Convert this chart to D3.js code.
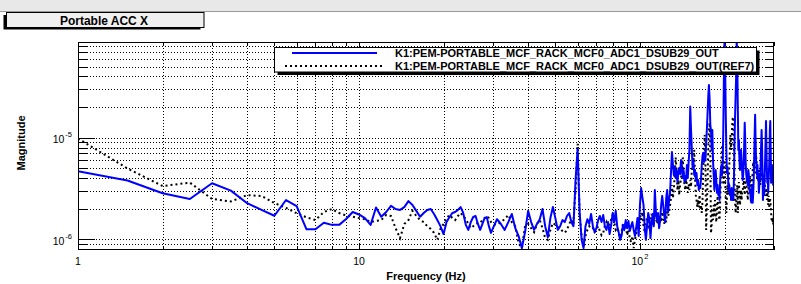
<!DOCTYPE html>
<html>
<head>
<meta charset="utf-8">
<script src="https://cdn.jsdelivr.net/npm/d3@7"></script>
<style>
  body { margin: 0; background: #fff; }
  svg { display: block; font-family: "Liberation Sans", Arial, Helvetica, sans-serif; }
</style>
</head>
<body>
<div id="chart"></div>
<script>
// Título e nomes das séries
const titulo = "Portable ACC X";
const nomesSeries = [
  "K1:PEM-PORTABLE_MCF_RACK_MCF0_ADC1_DSUB29_OUT",
  "K1:PEM-PORTABLE_MCF_RACK_MCF0_ADC1_DSUB29_OUT(REF7)"
];
const tituloX = "Frequency (Hz)";
const tituloY = "Magnitude";

// Frequências (Hz): 0.5 Hz até 29.5, depois 1 Hz até 300
const freqBaixa = d3.range(1, 30, 0.5);
const freqAlta = d3.range(30, 301, 1);
const frequencias = [...freqBaixa, ...freqAlta];

// Magnitudes em unidades de 1e-6
const unidade = 1e-6;

const valoresAtual = [
  // 1 .. 29.5 Hz (passo 0.5)
  4.69, 3.80, 2.84, 2.50, 3.57, 3.02, 2.27, 1.95, 1.71, 2.44,
  2.13, 1.26, 1.26, 1.46, 1.39, 1.39, 1.59, 1.86, 1.76, 1.62,
  1.39, 2.06, 1.67, 1.86, 2.14, 1.99, 1.95, 2.08, 2.38, 2.18,
  1.91, 1.67, 1.82, 1.95, 1.99, 1.78, 1.55, 1.35, 1.13, 1.48,
  1.66, 1.82, 1.86, 1.95, 2.08, 1.82, 1.39, 1.24, 1.48, 1.66,
  1.70, 1.42, 1.24, 1.42, 1.62, 1.66, 1.35, 1.16,
  // 30 .. 300 Hz (passo 1)
  1.29, 1.58, 1.42, 1.24, 1.48, 1.78, 1.29, 1.08, 0.82, 1.18,
  1.91, 1.48, 1.24, 1.42, 1.58, 1.99, 1.35, 1.05, 1.62, 2.08,
  1.62, 1.24, 1.35, 1.55, 1.48, 1.70, 1.82, 1.48, 1.35, 3.84,
  7.74, 1.86, 0.99, 0.82, 1.35, 1.58, 1.42, 1.78, 1.35, 1.18,
  1.29, 1.55, 1.70, 1.48, 1.74, 1.35, 1.24, 1.48, 1.13, 1.39,
  1.82, 1.48, 1.91, 1.35, 1.18, 0.99, 1.08, 1.39, 1.24, 1.55,
  1.29, 1.52, 1.21, 1.35, 1.48, 1.24, 1.08, 1.32, 1.62, 1.08,
  2.18, 3.20, 2.61, 2.18, 1.29, 0.99, 1.35, 1.82, 1.62, 1.03,
  1.48, 1.78, 1.35, 3.06, 1.86, 1.55, 1.82, 1.29, 1.55, 2.18,
  2.68, 2.18, 1.74, 1.48, 2.55, 3.06, 1.86, 2.44, 2.87, 4.60,
  7.24, 5.50, 4.30, 5.15, 4.02, 4.82, 3.67, 4.50, 5.04, 4.40,
  6.04, 5.27, 4.02, 4.82, 3.67, 4.20, 3.84, 5.40, 4.02, 5.65,
  7.59, 20.3, 12.0, 7.59, 5.04, 6.04, 4.30, 4.82, 3.84, 4.50,
  3.43, 3.84, 3.06, 3.35, 3.20, 4.02, 5.40, 6.60, 7.10, 5.78,
  7.10, 6.04, 8.49, 11.9, 17.0, 25.0, 33.0, 24.0, 13.4, 11.9,
  7.59, 11.9, 6.04, 4.30, 3.06, 3.84, 4.82, 3.84, 2.87, 3.43,
  2.74, 3.06, 2.44, 3.84, 4.82, 5.40, 4.30, 5.40, 12.0, 40.0,
  92.0, 50.0, 18.0, 7.59, 4.50, 5.15, 3.84, 3.06, 3.43, 2.74,
  3.06, 2.44, 3.20, 2.74, 2.44, 2.44, 3.84, 8.49, 16.0, 25.0,
  40.0, 92.0, 60.0, 20.0, 7.59, 9.50, 6.04, 4.82, 5.40, 7.59,
  6.04, 4.82, 3.84, 4.30, 5.40, 8.49, 14.0, 9.50, 5.40, 4.40,
  3.84, 4.40, 3.43, 4.82, 4.40, 3.43, 2.87, 3.06, 2.44, 2.30,
  2.74, 3.43, 2.30, 2.87, 3.84, 6.04, 10.7, 16.8, 9.50, 6.04,
  5.20, 4.30, 5.40, 3.84, 4.40, 2.87, 3.43, 4.30, 3.84, 6.04,
  8.49, 11.9, 8.49, 4.82, 2.44, 3.06, 3.84, 2.74, 4.30, 6.04,
  9.50, 14.6, 8.49, 4.82, 3.60, 4.30, 2.87, 3.84, 4.82, 6.60,
  11.9, 14.6, 7.59, 3.60, 4.82, 5.40, 3.84, 4.30, 3.43, 4.82,
  3.84
];

const valoresRef7 = [
  // 1 .. 29.5 Hz (passo 0.5)
  9.80, 4.99, 3.35, 3.62, 2.50, 2.36, 2.73, 2.67, 2.28, 2.04,
  1.81, 1.65, 1.55, 1.86, 1.99, 1.82, 1.72, 1.67, 1.62, 1.58,
  1.48, 1.52, 1.55, 1.74, 1.70, 1.29, 1.03, 1.42, 1.55, 1.91,
  1.70, 1.55, 1.48, 1.35, 1.27, 1.16, 0.99, 1.27, 1.42, 1.62,
  1.74, 1.62, 1.55, 1.70, 1.82, 1.70, 1.58, 1.42, 1.29, 1.35,
  1.42, 1.45, 1.45, 1.55, 1.62, 1.70, 1.62, 1.48,
  // 30 .. 300 Hz (passo 1)
  1.42, 1.39, 1.48, 1.58, 1.74, 1.48, 1.35, 0.92, 0.82, 1.35,
  1.42, 1.29, 1.18, 1.42, 1.55, 1.29, 1.03, 0.99, 1.24, 1.45,
  1.39, 1.32, 1.27, 1.21, 1.16, 1.24, 1.42, 1.55, 1.48, 3.06,
  8.70, 1.74, 1.08, 0.84, 1.08, 1.24, 1.35, 1.27, 1.29, 1.18,
  1.24, 1.35, 1.21, 1.10, 1.16, 1.35, 1.48, 1.29, 1.42, 1.58,
  1.74, 1.48, 1.24, 1.29, 1.16, 0.99, 1.18, 1.42, 1.29, 1.45,
  1.10, 1.24, 1.03, 0.94, 1.08, 0.82, 0.99, 1.13, 1.29, 1.42,
  1.74, 1.55, 1.86, 1.35, 1.18, 1.48, 1.62, 1.42, 1.24, 1.48,
  1.78, 1.55, 1.35, 1.86, 1.62, 1.42, 1.55, 1.32, 1.70, 1.48,
  1.86, 1.62, 1.42, 1.74, 1.48, 1.95, 1.70, 1.86, 2.18, 2.55,
  3.43, 2.55, 3.06, 4.30, 6.40, 4.82, 3.06, 3.84, 2.74, 3.43,
  4.02, 4.82, 6.40, 4.60, 3.50, 3.06, 3.84, 3.43, 2.87, 3.50,
  3.06, 3.84, 3.28, 4.82, 5.40, 6.04, 7.60, 4.30, 2.74, 2.44,
  2.08, 2.44, 2.08, 2.74, 1.95, 2.18, 1.82, 2.44, 4.82, 8.49,
  10.7, 6.04, 1.24, 1.95, 3.84, 7.59, 11.9, 14.0, 7.59, 1.15,
  1.39, 1.95, 1.55, 2.18, 1.66, 2.44, 1.78, 1.48, 2.03, 2.68,
  2.18, 1.70, 1.55, 2.44, 3.84, 6.04, 8.50, 5.40, 3.43, 4.30,
  6.04, 3.84, 2.44, 1.82, 2.55, 3.43, 2.74, 3.84, 5.40, 7.59,
  10.7, 7.59, 9.50, 13.4, 15.6, 16.0, 7.59, 3.84, 2.44, 1.82,
  2.18, 2.74, 3.43, 1.82, 3.06, 3.67, 2.80, 2.18, 2.55, 3.06,
  2.44, 2.87, 2.87, 3.43, 4.02, 3.28, 2.74, 3.35, 3.84, 3.84,
  3.20, 2.80, 2.44, 2.92, 3.35, 3.06, 3.50, 4.20, 3.06, 3.35,
  3.35, 3.84, 4.82, 5.78, 5.04, 6.20, 6.40, 5.40, 4.30, 5.04,
  6.40, 4.02, 4.82, 4.60, 3.84, 4.20, 4.82, 4.20, 3.43, 4.02,
  4.60, 3.84, 4.20, 4.50, 3.50, 3.06, 3.67, 4.30, 3.67, 3.06,
  2.68, 3.20, 2.74, 2.44, 2.92, 2.55, 2.18, 2.68, 2.38, 2.03,
  2.44, 2.44, 2.13, 1.86, 1.55, 1.62, 1.48, 1.55, 1.39, 1.74,
  1.62
];

// Marcas dos eixos
const xTicksMaiores = [1, 10, 100];
const xTicksMenores = [2, 3, 4, 5, 6, 7, 8, 9, 20, 30, 40, 50, 60, 70, 80, 90, 200, 300];
const yTicksMaiores = [1e-6, 1e-5];
const yTicksMenores = [8e-7, 9e-7, 2e-6, 3e-6, 4e-6, 5e-6, 6e-6, 7e-6, 8e-6, 9e-6,
                       2e-5, 3e-5, 4e-5, 5e-5, 6e-5, 7e-5, 8e-5];
// rótulos: [base, expoente]
const xRotulos = [["1", ""], ["10", ""], ["10", "2"]];
const yRotulos = [["10", "-6"], ["10", "-5"]];

function desenhar() {
  const width = 801;
  const height = 284;
  const marginTop = 42;
  const marginRight = 27;
  const marginBottom = 34;
  const marginLeft = 78;
  const x0 = marginLeft, x1 = width - marginRight;
  const y0 = marginTop, y1 = height - marginBottom;

  const x = d3.scaleLog().domain([1, 300]).range([x0, x1]);
  const y = d3.scaleLog().domain([7.87e-7, 8.73e-5]).range([y1, y0]);

  const svg = d3.select("#chart").append("svg")
    .attr("width", width)
    .attr("height", height);

  // Faixa cinza no topo (janela)
  svg.append("rect").attr("x", 0).attr("y", 0).attr("width", width).attr("height", 11)
    .attr("fill", "#e8e8e8");
  svg.append("line").attr("x1", 0).attr("x2", width).attr("y1", 11.5).attr("y2", 11.5)
    .attr("stroke", "#9a9a9a");

  // Caixa do título com sombra
  svg.append("rect").attr("x", 3.5).attr("y", 15).attr("width", 197).attr("height", 14.5)
    .attr("fill", "#000");
  svg.append("rect").attr("x", 6.5).attr("y", 12.5).attr("width", 197.5).attr("height", 15)
    .attr("fill", "#f0f0f0").attr("stroke", "#000");
  svg.append("text").attr("x", 104).attr("y", 24.8)
    .attr("text-anchor", "middle").attr("font-size", 12).attr("font-weight", "bold")
    .text(titulo);

  // Grade pontilhada
  const grade = svg.append("g").attr("stroke", "#000").attr("stroke-dasharray", "1,2")
    .attr("shape-rendering", "crispEdges");
  [...xTicksMaiores, ...xTicksMenores].filter(v => v > 1 && v < 300).forEach(v => {
    grade.append("line").attr("x1", Math.round(x(v)) + 0.5).attr("x2", Math.round(x(v)) + 0.5)
      .attr("y1", y0).attr("y2", y1);
  });
  [...yTicksMaiores, ...yTicksMenores].forEach(v => {
    grade.append("line").attr("y1", Math.round(y(v)) + 0.5).attr("y2", Math.round(y(v)) + 0.5)
      .attr("x1", x0).attr("x2", x1);
  });

  // Eixos (marcas para dentro, nos quatro lados)
  const eixo = (gen, tr) => {
    const g = svg.append("g").attr("transform", tr).call(gen);
    g.select(".domain").remove();
    g.selectAll("line").attr("stroke", "#000").attr("shape-rendering", "crispEdges");
    return g;
  };
  eixo(d3.axisRight(y).tickValues(yTicksMaiores).tickSize(17).tickFormat(""), `translate(${x0},0)`);
  eixo(d3.axisRight(y).tickValues(yTicksMenores).tickSize(9).tickFormat(""), `translate(${x0},0)`);
  eixo(d3.axisLeft(y).tickValues(yTicksMaiores).tickSize(17).tickFormat(""), `translate(${x1},0)`);
  eixo(d3.axisLeft(y).tickValues(yTicksMenores).tickSize(9).tickFormat(""), `translate(${x1},0)`);
  eixo(d3.axisTop(x).tickValues(xTicksMaiores).tickSize(7).tickFormat(""), `translate(0,${y1})`);
  eixo(d3.axisTop(x).tickValues(xTicksMenores).tickSize(4).tickFormat(""), `translate(0,${y1})`);
  eixo(d3.axisBottom(x).tickValues(xTicksMaiores).tickSize(7).tickFormat(""), `translate(0,${y0})`);
  eixo(d3.axisBottom(x).tickValues(xTicksMenores).tickSize(4).tickFormat(""), `translate(0,${y0})`);

  // Dados
  const dadosAtual = frequencias.map((f, i) => ({ f, v: valoresAtual[i] * unidade }));
  const dadosRef7 = frequencias.map((f, i) => ({ f, v: valoresRef7[i] * unidade }));

  svg.append("clipPath").attr("id", "quadro")
    .append("rect").attr("x", x0).attr("y", y0).attr("width", x1 - x0).attr("height", y1 - y0);

  const linha = d3.line().x(d => x(d.f)).y(d => y(d.v));

  const area = svg.append("g").attr("clip-path", "url(#quadro)");
  area.append("path").datum(dadosRef7)
    .attr("fill", "none").attr("stroke", "#000").attr("stroke-width", 2)
    .attr("stroke-dasharray", "2,3").attr("d", linha);
  area.append("path").datum(dadosAtual)
    .attr("fill", "none").attr("stroke", "#0000ff").attr("stroke-width", 2)
    .attr("stroke-linejoin", "round").attr("d", linha);

  // Quadro
  svg.append("rect").attr("x", x0 + 0.5).attr("y", y0 + 0.5)
    .attr("width", x1 - x0 - 1).attr("height", y1 - y0 - 1)
    .attr("fill", "none").attr("stroke", "#000");

  // Rótulos dos eixos
  const rotulo = (xx, yy, par, anchor) => {
    const t = svg.append("text").attr("x", xx).attr("y", yy)
      .attr("text-anchor", anchor).attr("font-size", 10.5);
    t.append("tspan").text(par[0]);
    if (par[1]) t.append("tspan").attr("dy", -6).attr("dx", 1).attr("font-size", 7.5).text(par[1]);
  };
  xTicksMaiores.forEach((v, i) => rotulo(x(v), 264.5, xRotulos[i], "middle"));
  yTicksMaiores.forEach((v, i) => rotulo(72, y(v) + 5.3, yRotulos[i], "end"));

  svg.append("text").attr("x", (x0 + x1) / 2).attr("y", 280)
    .attr("text-anchor", "middle").attr("font-size", 11).attr("font-weight", "bold")
    .text(tituloX);
  svg.append("text").attr("transform", "translate(25,143) rotate(-90)")
    .attr("text-anchor", "middle").attr("font-size", 11).attr("font-weight", "bold")
    .text(tituloY);

  // Legenda
  const leg = svg.append("g");
  leg.append("rect").attr("x", 277.5).attr("y", 50.5).attr("width", 482).attr("height", 24.5)
    .attr("fill", "#000");
  leg.append("rect").attr("x", 274.5).attr("y", 47.5).attr("width", 482).attr("height", 24.5)
    .attr("fill", "#fff").attr("stroke", "#000");
  leg.append("line").attr("x1", 292).attr("x2", 377).attr("y1", 53).attr("y2", 53)
    .attr("stroke", "#0000ff").attr("stroke-width", 2);
  leg.append("line").attr("x1", 285).attr("x2", 385).attr("y1", 66).attr("y2", 66)
    .attr("stroke", "#000").attr("stroke-width", 2).attr("stroke-dasharray", "2,3");
  nomesSeries.forEach((n, i) => {
    leg.append("text").attr("x", 395).attr("y", 56.5 + i * 13)
      .attr("font-size", 11).attr("font-weight", "bold").text(n);
  });
}

desenhar();
</script>
</body>
</html>
